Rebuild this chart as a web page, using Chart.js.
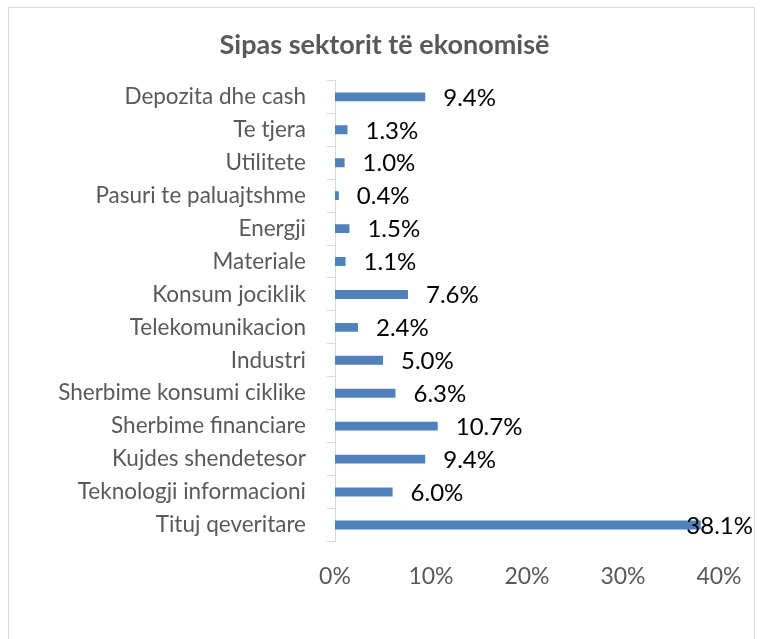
<!DOCTYPE html>
<html>
<head>
<meta charset="utf-8">
<script src="https://cdn.jsdelivr.net/npm/chart.js@4"></script>
<style>
  body { margin: 0; background: #fff; }
  #frame { position: absolute; left: 8px; top: 7px; width: 745px; height: 660px; border: 1px solid #d9d9d9; }
  #wrap { position: absolute; left: 0; top: 0; width: 763px; height: 639px; }
</style>
</head>
<body>
<div id="frame"></div>
<div id="wrap"><canvas id="canvas"></canvas></div>
<script>
const sectors = [
  "Depozita dhe cash",
  "Te tjera",
  "Utilitete",
  "Pasuri te paluajtshme",
  "Energji",
  "Materiale",
  "Konsum jociklik",
  "Telekomunikacion",
  "Industri",
  "Sherbime konsumi ciklike",
  "Sherbime financiare",
  "Kujdes shendetesor",
  "Teknologji informacioni",
  "Tituj qeveritare"
];
const shares = [9.4, 1.3, 1.0, 0.4, 1.5, 1.1, 7.6, 2.4, 5.0, 6.3, 10.7, 9.4, 6.0, 38.1];
const xTicks = [0, 10, 20, 30, 40];

// value labels at the bar ends, pushed back inside when they hit the edge
const barLabels = {
  id: "barLabels",
  afterDatasetsDraw(chart) {
    const ctx = chart.ctx;
    const meta = chart.getDatasetMeta(0);
    ctx.save();
    ctx.font = "24px Lato";
    ctx.fillStyle = "#000";
    ctx.textBaseline = "middle";
    ctx.textAlign = "left";
    meta.data.forEach((bar, i) => {
      const txt = shares[i].toFixed(1) + "%";
      const w = ctx.measureText(txt).width;
      const x = Math.min(bar.x + 18, chart.width - 10 - w);
      ctx.fillText(txt, x, bar.y + 1);
    });
    ctx.restore();
  }
};

const config = {
  type: "bar",
  data: {
    labels: sectors,
    datasets: [
      {
        data: shares,
        backgroundColor: "#4f81bd",
        categoryPercentage: 1,
        barPercentage: 0.27,
      },
    ],
  },
  options: {
    indexAxis: "y",
    responsive: true,
    maintainAspectRatio: false,
    animation: false,
    layout: { padding: { left: 50, right: 44, top: 0, bottom: 28 } },
    plugins: {
      legend: { display: false },
      tooltip: { enabled: false },
      title: {
        display: true,
        text: "Sipas sektorit të ekonomisë",
        color: "#595959",
        font: { family: "Lato", size: 27, weight: "bold" },
        padding: { top: 29, bottom: 19 },
      },
    },
    scales: {
      x: {
        min: 0,
        max: 40,
        afterBuildTicks(scale) {
          scale.ticks = xTicks.map((v) => ({ value: v }));
        },
        grid: { display: false, drawTicks: false },
        border: { display: false },
        ticks: {
          color: "#595959",
          font: { family: "Lato", size: 23 },
          padding: 21,
          callback: (v) => v + "%",
        },
      },
      y: {
        afterFit(scale) {
          scale.width = 285;
        },
        grid: {
          display: true,
          drawOnChartArea: false,
          drawTicks: true,
          tickLength: 8,
          color: "#d9d9d9",
          offset: true,
        },
        border: { display: true, color: "#d9d9d9" },
        ticks: {
          color: "#595959",
          font: { family: "Lato", size: 22.5 },
          padding: 21,
        },
      },
    },
  },
  plugins: [barLabels],
};

window.onload = function () {
  const ctx = document.getElementById("canvas").getContext("2d");
  new Chart(ctx, config);
};
</script>
</body>
</html>
